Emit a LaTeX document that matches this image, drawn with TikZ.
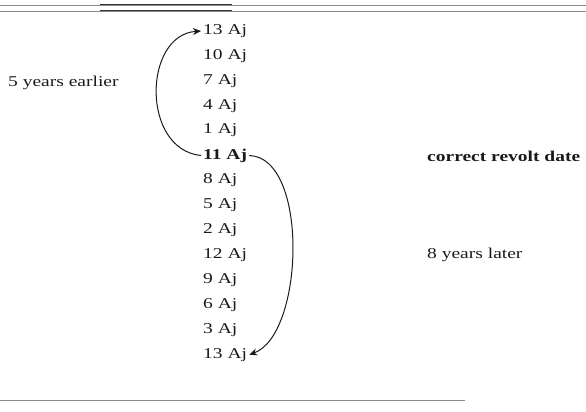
\documentclass[tikz,border=0pt]{standalone}
\usepackage{fontspec}
\setmainfont[FakeStretch=1.3]{Liberation Serif}
\usepackage{tikz}
\usetikzlibrary{arrows.meta}
\definecolor{inkgray}{HTML}{1A1A1A}
\definecolor{rulegray}{HTML}{8C8C8C}

\begin{document}
\begin{tikzpicture}[
    x=1pt, y=-1pt,
    every node/.style={anchor=west, inner sep=2pt, font=\fontsize{15}{17}\selectfont, text=inkgray},
    ajdate/.style={},
    jump/.style={draw=inkgray, line width=1pt, -{Stealth[length=8pt,width=7pt]}}
]
\useasboundingbox (0,0) rectangle (586,412);
\draw[rulegray, line width=0.8pt] (0,5) -- (586,5);
\draw[rulegray, line width=0.8pt] (0,11) -- (586,11);
\draw[black!80, line width=1pt] (100,5) -- (232,5) (100,11) -- (232,11);
\draw[rulegray, line width=0.8pt] (0,400) -- (465,400);
\foreach \d [count=\i] in {13,10,7,4,1,11,8,5,2,12,9,6,3,13}
    \node[ajdate] (y\i) at (201,{31+24.9*(\i-1)}) {\ifnum\i=6 \bfseries\fi\d{} Aj};
\node (earlier) at (6,83) {5 years earlier};
\node (revolt) at (425,156) {\bfseries correct revolt date};
\node (later) at (425,255) {8 years later};
\draw[jump] (y6.west) .. controls +(-60,-6) and +(-58,4) .. (y1.west);
\draw[jump] (y6.east) .. controls +(60,2) and +(55,-20) .. (y14.east);
\end{tikzpicture}
\end{document}
